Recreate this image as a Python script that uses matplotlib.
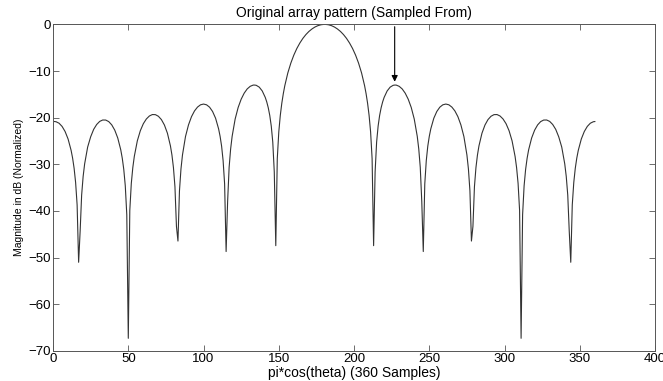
import matplotlib
matplotlib.use("Agg")
import matplotlib.pyplot as plt

# sample index (1..360) and normalized magnitude in dB
samples = [
    1, 2, 4, 6, 8, 10, 12, 13, 14, 15, 16, 17,
    18, 19, 20, 21, 23, 25, 27, 29, 31, 33, 35, 37, 39, 41, 43, 45, 46, 47, 48, 49, 50,
    51, 52, 53, 54, 56, 58, 60, 62, 64, 66, 68, 70, 72, 74, 76, 78, 79, 80, 81, 82, 83,
    84, 85, 86, 88, 90, 92, 94, 96, 98, 100, 102, 104, 106, 108, 110, 111, 112, 113, 114, 115,
    116, 117, 118, 119, 121, 123, 125, 127, 129, 131, 133, 134, 135, 137, 139, 141, 142, 143,
    144, 145, 146, 147, 148,
    149, 150, 151, 152, 153, 154, 156, 158, 160, 162, 164, 166, 168, 170, 172, 174, 176, 178,
    180, 181,
    183, 185, 187, 189, 191, 193, 195, 197, 199, 201, 203, 205, 207, 208, 209, 210, 211, 212,
    213, 214, 215, 216, 217, 218, 219, 220, 222, 224, 226, 227, 228, 230, 232, 234, 236, 238,
    240, 242, 243, 244, 245, 246,
    247, 248, 249, 250, 251, 253, 255, 257, 259, 261, 263, 265, 267, 269, 271, 273, 275, 276,
    277, 278,
    279, 280, 281, 282, 283, 285, 287, 289, 291, 293, 295, 297, 299, 301, 303, 305, 307, 308,
    309, 310, 311,
    312, 313, 314, 315, 316, 318, 320, 322, 324, 326, 328, 330, 332, 334, 336, 338, 340, 341,
    342, 343, 344,
    345, 346, 347, 348, 349, 351, 353, 355, 357, 359, 360,
]
magnitude_db = [
    -20.83, -20.87, -21.19, -21.87, -22.96, -24.58, -27.00, -28.67, -30.85, -33.90, -38.70, -51.00,
    -44.40, -36.60, -32.60, -29.90, -26.30, -24.10, -22.50, -21.46, -20.80, -20.50, -20.51, -20.84,
    -21.54, -22.67, -24.36, -26.90, -28.70, -31.10, -34.60, -40.80, -67.30,
    -39.90, -34.10, -30.70, -28.30, -24.97, -22.79, -21.29, -20.28, -19.64, -19.33, -19.35, -19.70,
    -20.41, -21.57, -23.33, -26.05, -28.00, -30.70, -34.80, -43.30, -46.45,
    -35.70, -31.00, -28.00, -24.06, -21.55, -19.78, -18.55, -17.73, -17.24, -17.08, -17.24, -17.75,
    -18.67, -20.12, -22.39, -24.00, -26.10, -29.20, -34.20, -48.70,
    -37.95, -30.65, -26.70, -24.00, -20.29, -17.81, -16.04, -14.75, -13.84, -13.28, -13.01, -13.01,
    -13.06, -13.45, -14.27, -15.65, -16.62, -17.87, -19.52, -21.80, -25.24, -31.64, -47.44,
    -28.77, -23.05, -19.51, -16.91, -14.85, -13.13, -10.41, -8.30, -6.58, -5.16, -3.99, -3.00,
    -2.19, -1.52, -0.99, -0.57, -0.27, -0.08,
    0.00, 0.00,
    -0.08, -0.27, -0.57, -0.99, -1.52, -2.19, -3.00, -3.99, -5.16, -6.58, -8.30, -10.41, -13.13,
    -14.85, -16.91, -19.51, -23.05, -28.77,
    -47.44, -31.64, -25.24, -21.80, -19.52, -17.87, -16.62, -15.65, -14.27, -13.45, -13.06, -13.01,
    -13.01, -13.28, -13.84, -14.75, -16.04, -17.81, -20.29, -24.00, -26.70, -30.65, -37.95, -48.70,
    -34.20, -29.20, -26.10, -24.00, -22.39, -20.12, -18.67, -17.75, -17.24, -17.08, -17.24, -17.73,
    -18.55, -19.78, -21.55, -24.06, -28.00, -31.00, -35.70, -46.45,
    -43.30, -34.80, -30.70, -28.00, -26.05, -23.33, -21.57, -20.41, -19.70, -19.35, -19.33, -19.64,
    -20.28, -21.29, -22.79, -24.97, -28.30, -30.70, -34.10, -39.90, -67.30,
    -40.80, -34.60, -31.10, -28.70, -26.90, -24.36, -22.67, -21.54, -20.84, -20.51, -20.50, -20.80,
    -21.46, -22.50, -24.10, -26.30, -29.90, -32.60, -36.60, -44.40, -51.00,
    -38.70, -33.90, -30.85, -28.67, -27.00, -24.58, -22.96, -21.87, -21.19, -20.87, -20.83,
]

x_ticks = [0, 50, 100, 150, 200, 250, 300, 350, 400]
y_ticks = [0, -10, -20, -30, -40, -50, -60, -70]
arrow_x = 227

plt.rcParams['font.family'] = ['Liberation Sans', 'DejaVu Sans']

fig = plt.figure(figsize=(6.63, 3.81), dpi=100)
ax = fig.add_axes([0.080, 0.079, 0.908, 0.857])

ax.plot(samples, magnitude_db, color='#333333', linewidth=0.8)

ax.set_xlim(0, 400)
ax.set_ylim(-70, 0)
ax.set_xticks(x_ticks)
ax.set_yticks(y_ticks)
ax.tick_params(direction='in', length=4, width=0.6, top=True, right=True,
               labelsize=9.5, pad=1.5, color='#555555')
for s in ax.spines.values():
    s.set_color('#555555')
    s.set_linewidth(0.7)

ax.set_xlabel('pi*cos(theta) (360 Samples)', fontsize=10, labelpad=0.5)
ax.set_ylabel('Magnitude in dB (Normalized)', fontsize=7.5, labelpad=3)
ax.set_title('Original array pattern (Sampled From)', fontsize=10, pad=5)

ax.annotate('', xy=(arrow_x, -12.3), xytext=(arrow_x, -0.5),
            arrowprops=dict(arrowstyle='-|>', color='black', lw=0.8,
                            mutation_scale=9, shrinkA=0, shrinkB=0))

fig.savefig('out.png', dpi=100)
